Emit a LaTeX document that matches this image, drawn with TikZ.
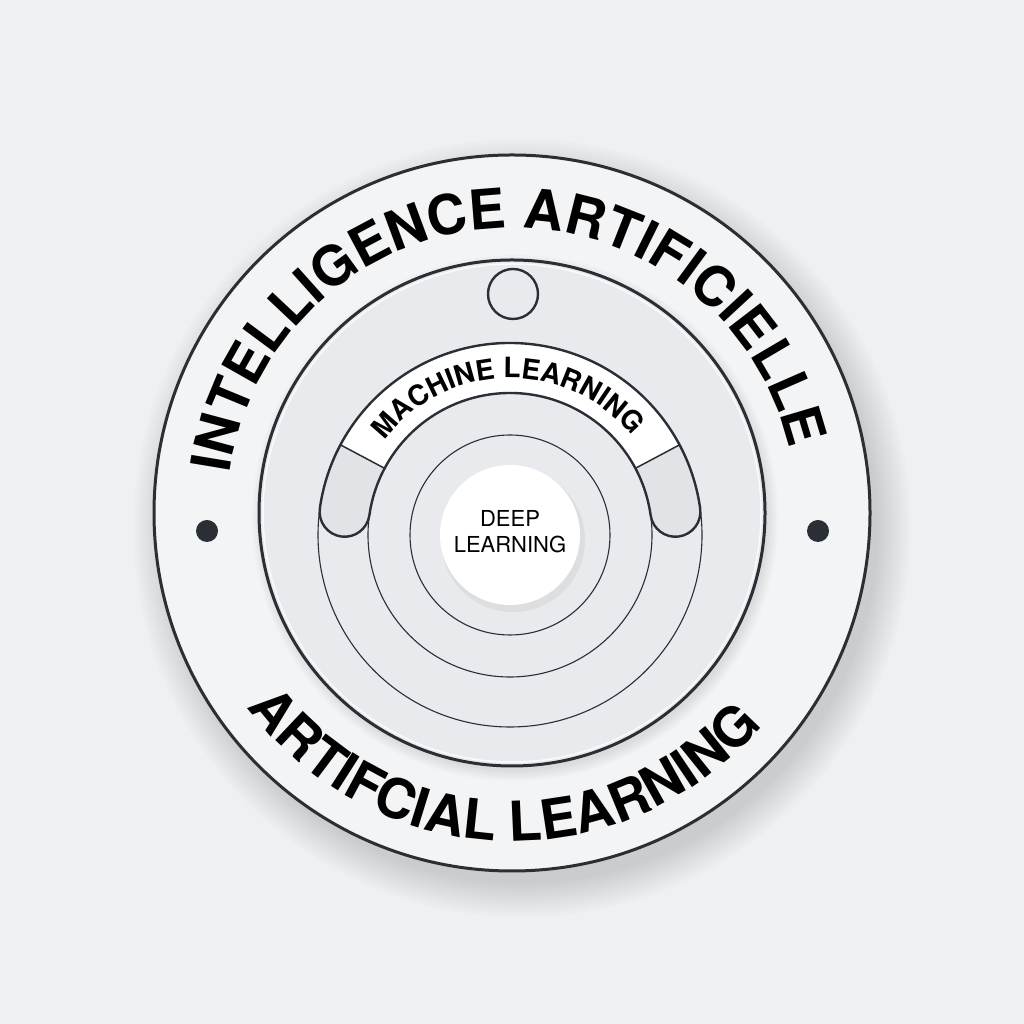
\documentclass[tikz,border=0pt]{standalone}
\usepackage{fontspec}
\newfontfamily\heros{TeX Gyre Heros}
\usetikzlibrary{decorations.text}
\definecolor{ink}{HTML}{2A2E35}
\definecolor{bgc}{HTML}{EEF0F2}
\definecolor{ringc}{HTML}{E9EBEE}
\definecolor{ringl}{HTML}{F3F4F5}
\definecolor{diskc}{HTML}{D6D9DD}
\definecolor{diskl}{HTML}{E8EAED}
\definecolor{lobec}{HTML}{E1E3E7}
\pgfdeclareradialshading{diskshade}{\pgfpointorigin}{color(0bp)=(diskl); color(30bp)=(diskl); color(50bp)=(diskc)}
\pgfdeclareradialshading{ringshade}{\pgfpointorigin}{color(0bp)=(ringl); color(36bp)=(ringl); color(50bp)=(ringc)}
\tikzset{
  rimline/.style={draw=ink, line width=3},
  bandline/.style={draw=ink, line width=2.4},
  thinline/.style={draw=ink, line width=1.1},
  ringtext/.style={decorate, decoration={text along path, text align=center, text={#1}}}
}
\begin{document}
\begin{tikzpicture}[x=1pt,y=1pt,line join=round]
\useasboundingbox (0,0) rectangle (1024,1024);
\fill[bgc] (0,0) rectangle (1024,1024);
% soft shadow of the disc
\foreach \k in {0,...,11} \fill[black, opacity=0.010] (522,496) circle ({356+3*\k});
\begin{scope}[shift={(512,511)}]
  \shade[shading=ringshade] (0,0) circle (358);
  \draw[rimline] (0,0) circle (358);
  % inner disc
  \foreach \k in {0,...,5} \fill[black, opacity=0.015] (3,-5) circle ({253+2*\k});
  \shade[shading=diskshade] (0,0) circle (253);
  \draw[white, line width=1.5, opacity=0.8] (0,0) circle (249);
  \draw[rimline] (0,0) circle (253);
  % small circle and dots
  \draw[bandline] (1,219) circle (25);
  \fill[ink] (-305,-18) circle (11);
  \fill[ink] (306,-18) circle (11);
  % outer texts
  \path[ringtext={|\heros\bfseries\fontsize{55}{55}\selectfont\color{black}|INTELLIGENCE ARTIFICIELLE}]
     (182.5:285) arc[start angle=182.5, end angle=2.5, radius=285];
  \path[ringtext={|\heros\bfseries\fontsize{55}{55}\selectfont\color{black}|ARTIFCIAL LEARNING}]
     (208:328) arc[start angle=208, end angle=328, radius=328];
\end{scope}
\begin{scope}[shift={(510,489)}]
  \draw[thinline] (0,0) circle (192);
  \draw[thinline] (0,0) circle (142);
  \draw[thinline] (0,0) circle (100);
  % white band
  \fill[white] (152:192) arc[start angle=152, end angle=28, radius=192]
     -- (28:142) arc[start angle=28, end angle=152, radius=142] -- cycle;
  % lobes
  \fill[lobec] (152:192) arc[start angle=152, end angle=172, radius=192]
     arc[start angle=172, end angle=352, radius=25]
     arc[start angle=172, end angle=152, radius=142] -- cycle;
  \fill[lobec] (28:192) arc[start angle=28, end angle=8, radius=192]
     arc[start angle=8, end angle=-172, radius=25]
     arc[start angle=8, end angle=28, radius=142] -- cycle;
  % band outline
  \draw[bandline] (172:192) arc[start angle=172, end angle=8, radius=192]
     arc[start angle=8, end angle=-172, radius=25]
     arc[start angle=8, end angle=172, radius=142]
     arc[start angle=-8, end angle=-188, radius=25];
  \draw[ink, line width=1.5] (152:142) -- (152:192);
  \draw[ink, line width=1.5] (28:142) -- (28:192);
  \path[ringtext={|\heros\bfseries\fontsize{28}{28}\selectfont\color{black}|MACHINE LEARNING}]
     (151:157) arc[start angle=151, end angle=31, radius=157];
  % deep learning disc
  \fill[black, opacity=0.05] (3,-5) circle (72);
  \fill[white] (0,0) circle (70);
  \node[align=center, font=\heros\fontsize{22}{26}\selectfont, text=black] (dl) at (0,3) {DEEP\\LEARNING};
\end{scope}
\end{tikzpicture}
\end{document}
